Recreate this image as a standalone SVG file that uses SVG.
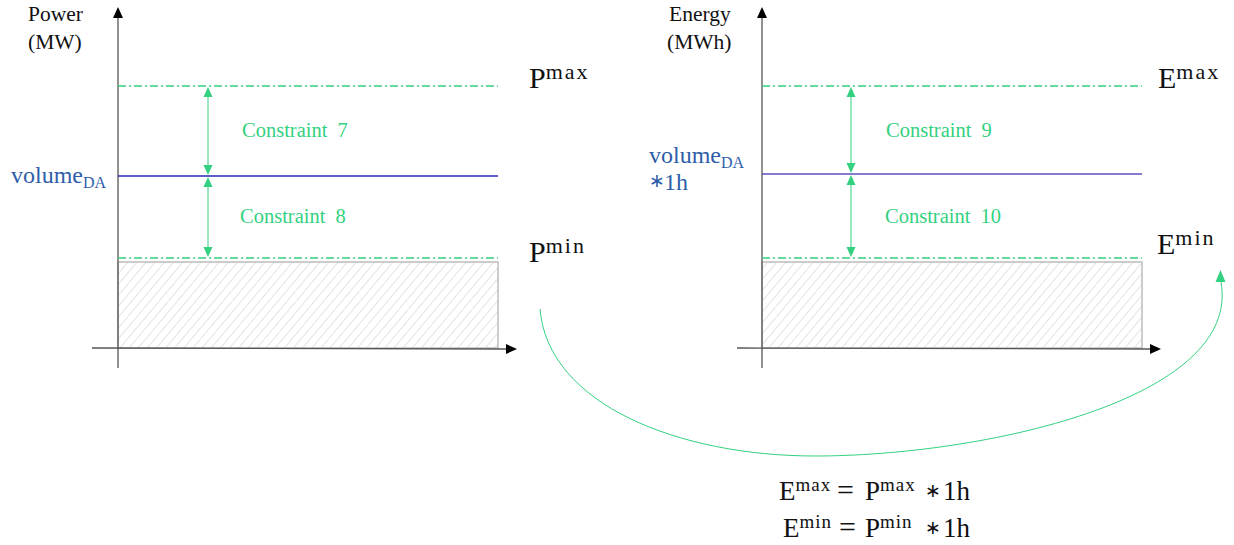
<svg xmlns="http://www.w3.org/2000/svg" width="1234" height="545" viewBox="0 0 1234 545">
<style>
.ax{stroke:#555;stroke-width:1.3;fill:none}
.lim{stroke:#33D17F;stroke-width:1.3;stroke-dasharray:8 3 2 3;fill:none}
.dim{stroke:#33D17F;stroke-width:1;fill:none}
.ah{fill:#33D17F}
.blk{fill:#000}
.hat{fill:url(#hatch);stroke:#BDBDBD;stroke-width:1.5}
.lbl{font-family:"Liberation Serif",serif;font-size:21.5px;fill:#111}
.con{font-family:"Liberation Serif",serif;font-size:20.5px;fill:#33D17F;word-spacing:5px}
.vol{font-family:"Liberation Serif",serif;font-size:24px;fill:#2E5EAA}
.sub{font-size:16px}
.m{font-family:"Liberation Serif",serif;font-size:30px;fill:#111}
.sup{font-size:22px;letter-spacing:2px}
.f{font-family:"Liberation Serif",serif;font-size:27px;fill:#111}
.fs{font-size:19px;letter-spacing:1px}
.eq{font-size:30px}
.st{font-family:"DejaVu Sans",sans-serif;font-size:19px}
</style>
<defs>
<pattern id="hatch" patternUnits="userSpaceOnUse" width="7" height="7" patternTransform="rotate(40)">
<rect width="7" height="7" fill="#fff"/>
<line x1="0" y1="0" x2="0" y2="7" stroke="#E3E3E3" stroke-width="2"/>
</pattern>
</defs>

<g id="power-panel">
<rect class="hat" x="118" y="262" width="380" height="86"/>
<line class="ax" x1="118" y1="14" x2="118" y2="368"/>
<polygon class="blk" points="118,7 113,18 123,18"/>
<line class="ax" x1="92" y1="348" x2="508" y2="349"/>
<polygon class="blk" points="517,349 506,344 506,354"/>
<text class="lbl" x="28" y="21">Power</text>
<text class="lbl" x="28" y="49">(MW)</text>
</g>

<g id="power-limits">
<line class="lim" x1="118" y1="86" x2="498" y2="86"/>
<line class="lim" x1="118" y1="258" x2="498" y2="258"/>
<line x1="118" y1="176" x2="498" y2="176" stroke="#2A2AB5" stroke-width="1.5"/>
<text class="m" x="529" y="88">P<tspan class="sup" dy="-9">max</tspan></text>
<text class="m" x="529" y="262">P<tspan class="sup" dy="-9">min</tspan></text>
<text class="vol" x="11" y="183">volume<tspan class="sub" dy="5">DA</tspan></text>
</g>

<g id="constraint-7">
<line class="dim" x1="208" y1="96" x2="208" y2="166"/>
<polygon class="ah" points="208,87 203.5,97 212.5,97"/>
<polygon class="ah" points="208,175 203.5,165 212.5,165"/>
<text class="con" x="242" y="137">Constraint 7</text>
</g>
<g id="constraint-8">
<line class="dim" x1="208" y1="186" x2="208" y2="248"/>
<polygon class="ah" points="208,177 203.5,187 212.5,187"/>
<polygon class="ah" points="208,257 203.5,247 212.5,247"/>
<text class="con" x="240" y="223">Constraint 8</text>
</g>

<g id="energy-panel">
<rect class="hat" x="762" y="262" width="380" height="86"/>
<line class="ax" x1="762" y1="14" x2="762" y2="368"/>
<polygon class="blk" points="762,7 757,18 767,18"/>
<line class="ax" x1="737" y1="348" x2="1152" y2="349"/>
<polygon class="blk" points="1161,349 1150,344 1150,354"/>
<text class="lbl" x="669" y="21">Energy</text>
<text class="lbl" x="667" y="49">(MWh)</text>
</g>

<g id="energy-limits">
<line class="lim" x1="762" y1="86" x2="1142" y2="86"/>
<line class="lim" x1="762" y1="258" x2="1142" y2="258"/>
<line x1="762" y1="174" x2="1142" y2="174" stroke="#5B4FBF" stroke-width="1.5"/>
<text class="m" x="1158" y="88">E<tspan class="sup" dy="-9">max</tspan></text>
<text class="m" x="1157" y="254">E<tspan class="sup" dy="-9">min</tspan></text>
<text class="vol" x="649" y="163">volume<tspan class="sub" dy="5">DA</tspan></text>
<text class="vol" x="649" y="190"><tspan class="st" dy="-3">∗</tspan><tspan x="664" dy="3">1h</tspan></text>
</g>

<g id="constraint-9">
<line class="dim" x1="851" y1="96" x2="851" y2="164"/>
<polygon class="ah" points="851,87 846.5,97 855.5,97"/>
<polygon class="ah" points="851,173 846.5,163 855.5,163"/>
<text class="con" x="886" y="137">Constraint 9</text>
</g>
<g id="constraint-10">
<line class="dim" x1="851" y1="184" x2="851" y2="248"/>
<polygon class="ah" points="851,175 846.5,185 855.5,185"/>
<polygon class="ah" points="851,257 846.5,247 855.5,247"/>
<text class="con" x="885" y="223">Constraint 10</text>
</g>

<g id="connectors">
<path d="M540,309 C548,405 680,456 815,456 C980,456 1242,400 1221,282" fill="none" stroke="#33D17F" stroke-width="1"/>
<polygon class="ah" points="1220.5,270 1215.5,282 1225.5,282"/>
</g>

<g id="formula">
<text class="f" x="779" y="500">E<tspan class="fs" dy="-9">max</tspan><tspan class="eq" dy="9" x="837">=</tspan><tspan x="865">P</tspan><tspan class="fs" dy="-9">max</tspan><tspan class="st" dy="6" x="925">∗</tspan><tspan x="943" dy="3">1h</tspan></text>
<text class="f" x="783" y="537">E<tspan class="fs" dy="-9">min</tspan><tspan class="eq" dy="9" x="839">=</tspan><tspan x="865">P</tspan><tspan class="fs" dy="-9">min</tspan><tspan class="st" dy="6" x="925">∗</tspan><tspan x="943" dy="3">1h</tspan></text>
</g>
</svg>
